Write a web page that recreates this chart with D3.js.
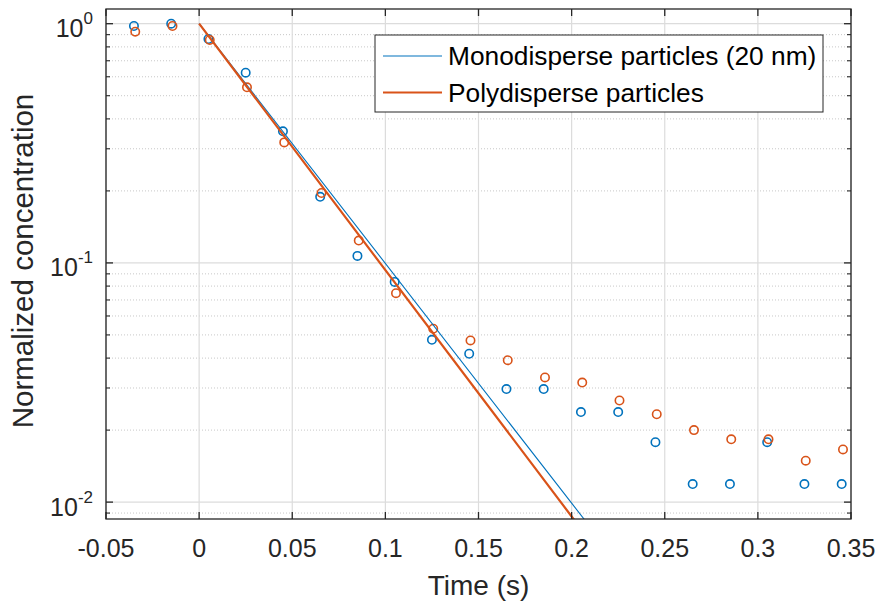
<!DOCTYPE html>
<html><head><meta charset="utf-8">
<script src="https://cdn.jsdelivr.net/npm/d3@7"></script>
<style>body{margin:0;background:#fff}svg{display:block;font-family:Arial,"Liberation Sans",Helvetica,sans-serif}</style>
</head><body><svg id="c" width="880" height="605"></svg>
<script>
// ---- data ----
const monoTime = [-0.035,-0.015,0.005,0.025,0.045,0.065,0.085,0.105,0.125,0.145,0.165,0.185,0.205,0.225,0.245,0.265,0.285,0.305,0.325,0.345];
const monoConc = [0.978,1.0,0.863,0.624,0.355,0.189,0.107,0.0833,0.0477,0.0417,0.0297,0.0297,0.0238,0.0238,0.0178,0.0119,0.0119,0.0178,0.0119,0.0119];
const polyTime = [-0.0343,-0.0143,0.0057,0.0257,0.0457,0.0657,0.0857,0.1057,0.1257,0.1457,0.1657,0.1857,0.2057,0.2257,0.2457,0.2657,0.2857,0.3057,0.3257,0.3457];
const polyConc = [0.926,0.978,0.855,0.542,0.319,0.196,0.124,0.0747,0.0531,0.0474,0.0392,0.0332,0.0316,0.0266,0.0233,0.0200,0.0183,0.0183,0.0149,0.0166];
const monoFitTime = [0, 0.2, 0.25];
const monoFitConc = [1.0, 0.0099, 0.00313];
const polyFitTime = [0, 0.2, 0.25];
const polyFitConc = [1.0, 0.00871, 0.00266];
const xTicks = [-0.05,0,0.05,0.1,0.15,0.2,0.25,0.3,0.35];
const xTickLabels = ["-0.05","0","0.05","0.1","0.15","0.2","0.25","0.3","0.35"];
const yMajor = [1,0.1,0.01];
const yTickExp = ["0","-1","-2"];
const seriesNames = ["Monodisperse particles (20 nm)","Polydisperse particles"];
const xLabel = "Time (s)", yLabel = "Normalized concentration";

const blue = "#0072BD", orange = "#D95319", axC = "#262626";
const L=106, R=851, T=9, B=519;
const x = d3.scaleLinear().domain([-0.05,0.35]).range([L,R]);
const y = d3.scaleLog().domain([0.0085,1.152]).range([B,T]);
const svg = d3.select("#c");

// minor y values
const yMinor = [];
[0.001,0.01,0.1].forEach(b=>{for(let k=2;k<=9;k++){const v=b*k; if(v>=0.0085&&v<=1.152) yMinor.push(v);}});
yMinor.push(0.009);
const yMinorUniq = Array.from(new Set(yMinor.map(v=>+v.toPrecision(3)))).filter(v=>v>=0.0085&&v<=1.152);

const g = svg.append("g");
// grid
g.selectAll(".mg").data(yMinorUniq).join("line").attr("x1",L).attr("x2",R)
 .attr("y1",d=>y(d)).attr("y2",d=>y(d)).attr("stroke","#c8c8c8").attr("stroke-width",1).attr("stroke-dasharray","1,2");
g.selectAll(".xg").data(xTicks).join("line").attr("x1",d=>x(d)).attr("x2",d=>x(d))
 .attr("y1",T).attr("y2",B).attr("stroke","#dcdcdc").attr("stroke-width",1.2);
g.selectAll(".yg").data(yMajor).join("line").attr("x1",L).attr("x2",R)
 .attr("y1",d=>y(d)).attr("y2",d=>y(d)).attr("stroke","#dcdcdc").attr("stroke-width",1.2);

svg.append("clipPath").attr("id","clip").append("rect").attr("x",L).attr("y",T).attr("width",R-L).attr("height",B-T);
const pg = svg.append("g").attr("clip-path","url(#clip)");

function circles(t,c,col){
  pg.append("g").selectAll("circle").data(t.map((d,i)=>[d,c[i]])).join("circle")
   .attr("cx",d=>x(d[0])).attr("cy",d=>y(d[1])).attr("r",4.2)
   .attr("fill","none").attr("stroke",col).attr("stroke-width",1.6);
}
circles(monoTime,monoConc,blue);
circles(polyTime,polyConc,orange);
const line = d3.line().x(d=>x(d[0])).y(d=>y(d[1]));
pg.append("path").attr("d",line(monoFitTime.map((d,i)=>[d,monoFitConc[i]]))).attr("fill","none").attr("stroke",blue).attr("stroke-width",1.1);
pg.append("path").attr("d",line(polyFitTime.map((d,i)=>[d,polyFitConc[i]]))).attr("fill","none").attr("stroke",orange).attr("stroke-width",2.2);

// axes box & ticks
const ax = svg.append("g").attr("stroke",axC);
ax.append("rect").attr("x",L).attr("y",T).attr("width",R-L).attr("height",B-T).attr("fill","none").attr("stroke-width",1.3);
xTicks.forEach(v=>{
  ax.append("line").attr("x1",x(v)).attr("x2",x(v)).attr("y1",B).attr("y2",B-7).attr("stroke-width",1.3);
  ax.append("line").attr("x1",x(v)).attr("x2",x(v)).attr("y1",T).attr("y2",T+7).attr("stroke-width",1.3);
});
yMajor.forEach(v=>{
  ax.append("line").attr("x1",L).attr("x2",L+7).attr("y1",y(v)).attr("y2",y(v)).attr("stroke-width",1.3);
  ax.append("line").attr("x1",R).attr("x2",R-7).attr("y1",y(v)).attr("y2",y(v)).attr("stroke-width",1.3);
});
yMinorUniq.forEach(v=>{
  ax.append("line").attr("x1",L).attr("x2",L+4).attr("y1",y(v)).attr("y2",y(v)).attr("stroke-width",1.1);
  ax.append("line").attr("x1",R).attr("x2",R-4).attr("y1",y(v)).attr("y2",y(v)).attr("stroke-width",1.1);
});

// tick labels
const tl = svg.append("g").attr("fill",axC);
xTicks.forEach((v,i)=>{
  tl.append("text").attr("x",x(v)).attr("y",557).attr("text-anchor","middle").attr("font-size",25).text(xTickLabels[i]);
});
yMajor.forEach((v,i)=>{
  const t = tl.append("text").attr("x",93).attr("y",y(v)+13.5).attr("text-anchor","end").attr("font-size",25);
  t.append("tspan").text("10");
  t.append("tspan").attr("font-size",17).attr("dy",-13).text(yTickExp[i]);
});
// axis labels
svg.append("text").attr("x",(L+R)/2).attr("y",595).attr("text-anchor","middle").attr("font-size",28).attr("fill",axC).text(xLabel);
svg.append("text").attr("transform",`translate(33,${(T+B)/2 - 3}) rotate(-90)`).attr("text-anchor","middle").attr("font-size",29.5).attr("fill",axC).text(yLabel);

// legend
const lg = svg.append("g");
lg.append("rect").attr("x",375).attr("y",35).attr("width",448).attr("height",77).attr("fill","#fff").attr("stroke",axC).attr("stroke-width",1);
[[blue,1.1,56],[orange,2.2,92.5]].forEach((s,i)=>{
  lg.append("line").attr("x1",383).attr("x2",442).attr("y1",s[2]).attr("y2",s[2]).attr("stroke",s[0]).attr("stroke-width",s[1]);
  lg.append("text").attr("x",448).attr("y",s[2]+9).attr("font-size",26.3).attr("fill","#000").text(seriesNames[i]);
});
</script></body></html>
